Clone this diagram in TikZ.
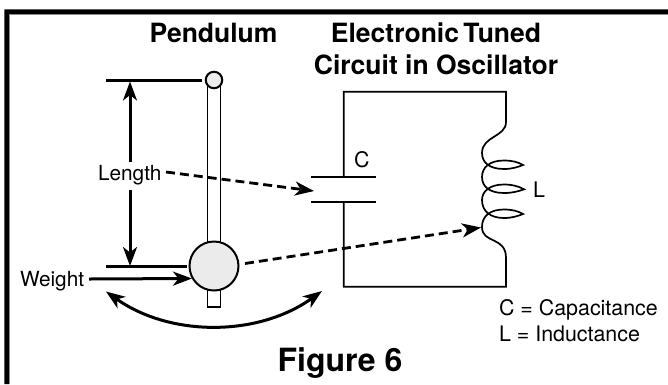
\documentclass[tikz,border=0pt]{standalone}
\usepackage{fontspec}
\setmainfont{TeX Gyre Heros}
\usetikzlibrary{arrows.meta}
\tikzset{
  tip/.tip={Stealth[length=19pt,width=14pt,inset=5.5pt]},
  lab/.style={anchor=base west,inner sep=0pt,outer sep=0pt,font=\fontsize{21.4}{24}\selectfont},
  smalllab/.style={anchor=base west,inner sep=0pt,outer sep=0pt,font=\fontsize{20.8}{24}\selectfont},
  head/.style={anchor=base,inner sep=0pt,outer sep=0pt,font=\fontsize{26.5}{30}\selectfont\bfseries},
  thick line/.style={line width=3pt},
  wire/.style={line width=1.7pt},
  dimen/.style={line width=3pt,-{tip}},
  dash arrow/.style={line width=2.8pt,dash pattern=on 9pt off 5pt,-{tip}},
  bob/.style={circle,draw=black,fill=black!8,line width=2pt,inner sep=0pt,minimum size=#1},
}
\begin{document}
\begin{tikzpicture}[x=1pt,y=-1pt]
\useasboundingbox (0,0) rectangle (668,384);
\fill[white] (0,0) rectangle (668,384);
% frame
\fill[black] (4.3,384) -- (4.3,9.3) -- (668,9.3) -- (668,14) -- (9,14) -- (9,384) -- cycle;
\draw[black!45,line width=0.7pt] (9.4,384) -- (9.4,14.4) -- (668,14.4);
% headings
\node[head] (hpend) at (213.5,42.7) {Pendulum};
\node[head] (hcirc1) at (436,42.7) {Electronic\hspace{-3pt} Tuned};
\node[head] (hcirc2) at (436,74.7) {Circuit in Oscillator};
\node[anchor=base,inner sep=0pt,font=\fontsize{32}{36}\selectfont\bfseries] (hfig) at (340,371) {Figure 6};
% pendulum rod
\draw[line width=1.8pt,fill=white] (207.5,82) -- (207.5,307) -- (220.5,307) -- (220.5,82);
\node[bob=16.5pt] (pivot) at (214,80) {};
\node[bob=49pt] (weightbob) at (214,266) {};
% level lines
\coordinate (t0) at (106,80.5);
\coordinate (t1) at (202,80.5);
\coordinate (b0) at (106,266.7);
\coordinate (b1) at (187,266.7);
\draw[thick line] (t0) -- (t1);
\draw[thick line] (b0) -- (b1);
% labels
\node[smalllab] (length) at (98,180) {Length};
\node[smalllab] (weight) at (20,286.7) {Weight};
% length arrows
\coordinate (ltop) at (130,81.5);
\coordinate (lmidt) at (130,162);
\coordinate (lmidb) at (130,190);
\coordinate (lbot) at (130,266);
\draw[dimen] (lmidt) -- (ltop);
\draw[dimen] (lmidb) -- (lbot);
% weight arrow
\coordinate (w0) at (89,279);
\coordinate (w1) at (192,278.5);
\draw[dimen] (w0) -- (w1);
% swing arrow
\coordinate (s0) at (106,291.5);
\coordinate (s1) at (322,291);
\draw[line width=3pt,{tip}-{tip}] (s0) .. controls (170,337) and (258,337) .. (s1);
% circuit
\coordinate (c1) at (343.7,177);
\coordinate (c2) at (343.7,201.7);
\draw[wire] (311,177) -- (376,177);
\draw[wire] (311,201.7) -- (376,201.7);
\draw[wire,line join=miter] (c1) -- (343.7,91.7) -- (506,91.7) -- (506,122)
  .. controls (506,137) and (482,136) .. (482,153)
  .. controls (482,163) and (490,169) .. (504,169)
  .. controls (512,169) and (518,167) .. (523,165)
  .. controls (518,162) and (512,160.5) .. (504,160.5)
  .. controls (490,160.5) and (482,167) .. (482,177)
  .. controls (482,187) and (490,193) .. (504,193)
  .. controls (512,193) and (518,191.5) .. (524,189.3)
  .. controls (518,186) and (512,184.5) .. (504,184.5)
  .. controls (490,184.5) and (482,191) .. (482,200)
  .. controls (482,211) and (490,218) .. (504,218)
  .. controls (512,218) and (518,216) .. (523,214)
  .. controls (518,211) and (512,209.5) .. (504,209.5)
  .. controls (490,209.5) and (482,216) .. (482,227)
  .. controls (482,244) and (506,236) .. (506,258)
  -- (506,286.7) -- (343.7,286.7) -- (c2);
\node[lab] (clabel) at (354,167.7) {C};
\node[lab] (llabel) at (533,197) {L};
\node[lab] (capdef) at (499,315) {C = Capacitance};
\node[lab] (inddef) at (499,341) {L = Inductance};
% dashed links
\coordinate (d1s) at (166,172);
\coordinate (d1e) at (314,191);
\coordinate (d2s) at (245,263.5);
\coordinate (d2e) at (481,227.5);
\draw[dash arrow] (d1s) -- (d1e);
\draw[dash arrow] (d2s) -- (d2e);
\end{tikzpicture}
\end{document}
